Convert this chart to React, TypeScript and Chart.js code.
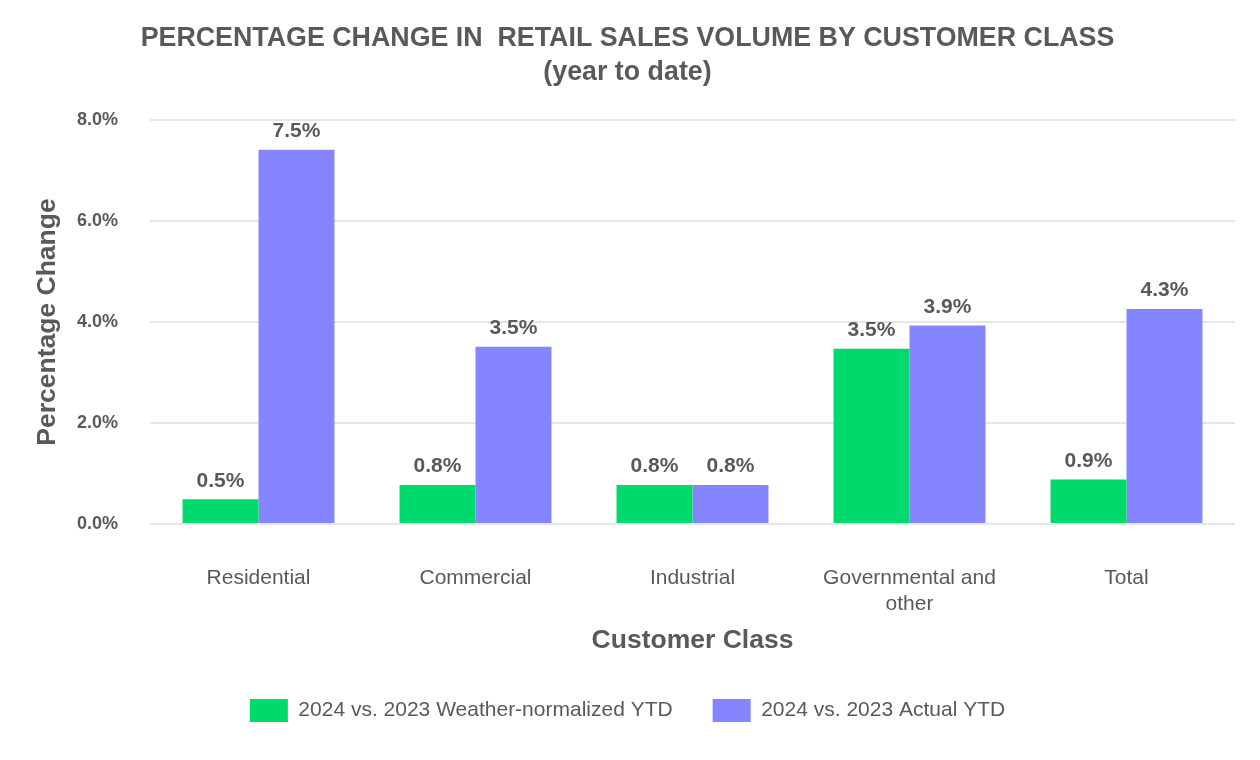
import React, { useEffect, useRef } from "react";
import { Chart, registerables } from "chart.js";

Chart.register(...registerables);

const categories: (string | string[])[] = [
  "Residential",
  "Commercial",
  "Industrial",
  ["Governmental and", "other"],
  "Total",
];
const weatherNormalized = [0.49, 0.77, 0.77, 3.47, 0.88];
const weatherNormalizedLabels = ["0.5%", "0.8%", "0.8%", "3.5%", "0.9%"];
const actual = [7.41, 3.51, 0.77, 3.93, 4.26];
const actualLabels = ["7.5%", "3.5%", "0.8%", "3.9%", "4.3%"];
const yTicks = [0, 2, 4, 6, 8];
const seriesNames = ["2024 vs. 2023 Weather-normalized YTD", "2024 vs. 2023 Actual YTD"];

const TEXT = "#595959";
const FONT = "'Liberation Sans', Arial, sans-serif";

const valueLabelPlugin = {
  id: "valueLabels",
  afterDatasetsDraw(chart: any) {
    const ctx = chart.ctx;
    const labelSets = [weatherNormalizedLabels, actualLabels];
    ctx.save();
    ctx.font = `bold 21px ${FONT}`;
    ctx.fillStyle = TEXT;
    ctx.textAlign = "center";
    ctx.textBaseline = "bottom";
    chart.data.datasets.forEach((_ds: any, di: number) => {
      const meta = chart.getDatasetMeta(di);
      meta.data.forEach((bar: any, i: number) => {
        ctx.fillText(labelSets[di][i], bar.x, bar.y - 8);
      });
    });
    ctx.restore();
  },
};

export default function App() {
  const ref = useRef<HTMLCanvasElement>(null);
  useEffect(() => {
    document.body.style.margin = "0";
    const chart = new Chart(ref.current!, {
      type: "bar",
      data: {
        labels: categories,
        datasets: [
          {
            label: seriesNames[0],
            data: weatherNormalized,
            backgroundColor: "#00d96b",
            categoryPercentage: 0.7,
            barPercentage: 1.0,
          },
          {
            label: seriesNames[1],
            data: actual,
            backgroundColor: "#8585ff",
            categoryPercentage: 0.7,
            barPercentage: 1.0,
          },
        ],
      },
      options: {
        animation: false,
        responsive: false,
        maintainAspectRatio: false,
        layout: { padding: { left: 20, right: 25, top: 0, bottom: 28 } },
        plugins: {
          title: {
            display: true,
            text: ["PERCENTAGE CHANGE IN  RETAIL SALES VOLUME BY CUSTOMER CLASS", "(year to date)"],
            color: TEXT,
            font: { family: FONT, size: 26.8, weight: "bold", lineHeight: 1.27 },
            padding: { top: 22, bottom: 30 },
          },
          legend: {
            position: "bottom",
            labels: {
              color: TEXT,
              font: { family: FONT, size: 21 },
              boxWidth: 38,
              boxHeight: 23,
              padding: 40,
            },
          },
          tooltip: { enabled: false },
        },
        scales: {
          x: {
            grid: { display: false, drawTicks: false },
            border: { display: false },
            afterFit: (axis: any) => {
              axis.height = 135;
            },
            ticks: {
              color: TEXT,
              font: { family: FONT, size: 21, lineHeight: 1.2 },
              padding: 42,
              maxRotation: 0,
            },
            title: {
              display: true,
              text: "Customer Class",
              color: TEXT,
              font: { family: FONT, size: 26.5, weight: "bold", lineHeight: 1.2 },
              padding: { top: 0, bottom: 2 },
            },
          },
          y: {
            min: 0,
            max: 8,
            afterBuildTicks: (axis: any) => {
              axis.ticks = yTicks.map((v) => ({ value: v }));
            },
            afterFit: (axis: any) => {
              axis.width = 130;
            },
            grid: { color: "#e6e6e6", lineWidth: 2, drawTicks: false },
            border: { display: false },
            ticks: {
              color: TEXT,
              font: { family: FONT, size: 18, weight: "bold" },
              padding: 32,
              callback: (v: any) => Number(v).toFixed(1) + "%",
            },
            title: {
              display: true,
              text: "Percentage Change",
              color: TEXT,
              font: { family: FONT, size: 26.5, weight: "bold", lineHeight: 1.2 },
              padding: { top: 12, bottom: 0 },
            },
          },
        },
      },
      plugins: [valueLabelPlugin],
    } as any);
    return () => chart.destroy();
  }, []);
  return (
    <div style={{ width: 1260, height: 760, background: "#fff" }}>
      <canvas ref={ref} width={1260} height={760} />
    </div>
  );
}
